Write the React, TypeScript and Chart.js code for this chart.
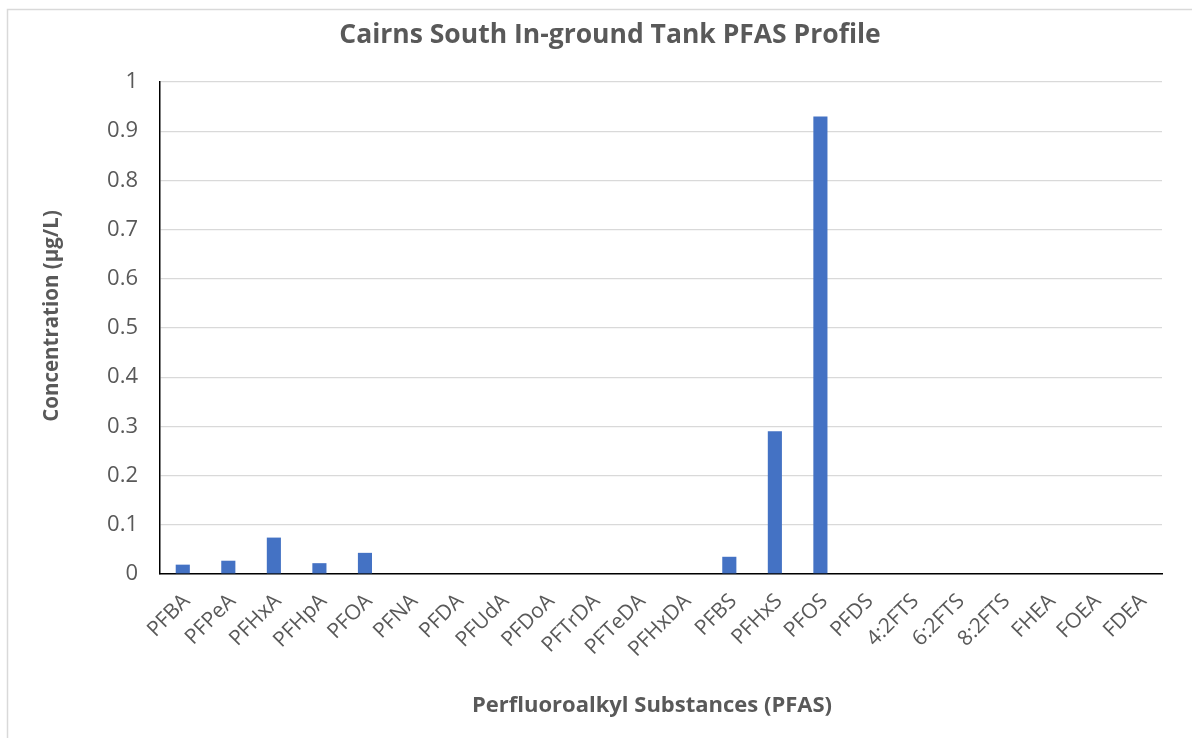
import React, { useEffect, useRef } from "react";
import { Chart, registerables } from "chart.js";

Chart.register(...registerables);

const chartTitle = "Cairns South In-ground Tank PFAS Profile";
const xAxisTitle = "Perfluoroalkyl Substances (PFAS)";
const yAxisTitle = "Concentration (µg/L)";

const categories = [
  "PFBA", "PFPeA", "PFHxA", "PFHpA", "PFOA", "PFNA", "PFDA", "PFUdA", "PFDoA",
  "PFTrDA", "PFTeDA", "PFHxDA", "PFBS", "PFHxS", "PFOS", "PFDS", "4:2FTS",
  "6:2FTS", "8:2FTS", "FHEA", "FOEA", "FDEA",
];

const concentrations = [
  0.019, 0.027, 0.074, 0.022, 0.043, 0, 0, 0, 0,
  0, 0, 0, 0.035, 0.29, 0.93, 0, 0,
  0, 0, 0, 0, 0,
];

const yMin = 0;
const yMax = 1;
const yStep = 0.1;

const FONT = "'Open Sans', 'DejaVu Sans', sans-serif";
const TEXT = "#595959";

export default function App() {
  const ref = useRef<HTMLCanvasElement | null>(null);

  useEffect(() => {
    if (!ref.current) return;
    const frame = {
      id: "frame",
      beforeDraw(chart: any) {
        const { ctx, width, height } = chart;
        ctx.save();
        ctx.fillStyle = "#ffffff";
        ctx.fillRect(0, 0, width, height);
        ctx.strokeStyle = "#d9d9d9";
        ctx.lineWidth = 1.5;
        ctx.strokeRect(7.5, 9.5, width + 50, height + 50);
        ctx.restore();
      },
      afterDraw(chart: any) {
        const { ctx } = chart;
        ctx.save();
        ctx.fillStyle = TEXT;
        ctx.textAlign = "center";
        ctx.textBaseline = "middle";
        ctx.font = `bold 26.5px ${FONT}`;
        ctx.fillText(chartTitle, 610, 35);
        ctx.font = `bold 22px ${FONT}`;
        ctx.fillText(xAxisTitle, 652, 706);
        ctx.translate(52, 316);
        ctx.rotate(-Math.PI / 2);
        ctx.font = `bold 20.5px ${FONT}`;
        ctx.fillText(yAxisTitle, 0, 0);
        ctx.restore();
      },
    };

    const chart = new Chart(ref.current, {
      type: "bar",
      data: {
        labels: categories,
        datasets: [
          {
            label: "Concentration",
            data: concentrations,
            backgroundColor: "#4472C4",
            borderWidth: 0,
            barPercentage: 0.31,
            categoryPercentage: 1,
          },
        ],
      },
      options: {
        animation: false,
        responsive: false,
        maintainAspectRatio: false,
        layout: { padding: { left: 8, right: 30, top: 82, bottom: 0 } },
        plugins: {
          legend: { display: false },
          title: { display: false },
          tooltip: { enabled: false },
        },
        scales: {
          x: {
            afterFit(scale: any) {
              scale.height = 164;
            },
            grid: { display: false, drawTicks: false },
            border: { display: true, color: "#000000", width: 1.5 },
            ticks: {
              color: TEXT,
              font: { family: FONT, size: 21 },
              minRotation: 45,
              maxRotation: 45,
              autoSkip: false,
              padding: 15,
              labelOffset: 4,
            },
            title: { display: false },
          },
          y: {
            min: yMin,
            max: yMax,
            afterFit(scale: any) {
              scale.width = 152;
            },
            grid: { color: "#d9d9d9", lineWidth: 1.3, drawTicks: false },
            border: { display: true, color: "#000000", width: 1.5 },
            ticks: {
              stepSize: yStep,
              color: TEXT,
              font: { family: FONT, size: 22 },
              padding: 22,
              callback: (v: any) => String(Math.round(Number(v) * 10) / 10),
            },
            title: { display: false },
          },
        },
      },
      plugins: [frame],
    });
    return () => chart.destroy();
  }, []);

  return (
    <div style={{ position: "fixed", left: 0, top: 0, width: 1192, height: 738, background: "#fff" }}>
      <canvas ref={ref} width={1192} height={738} style={{ display: "block", width: 1192, height: 738 }} />
    </div>
  );
}
